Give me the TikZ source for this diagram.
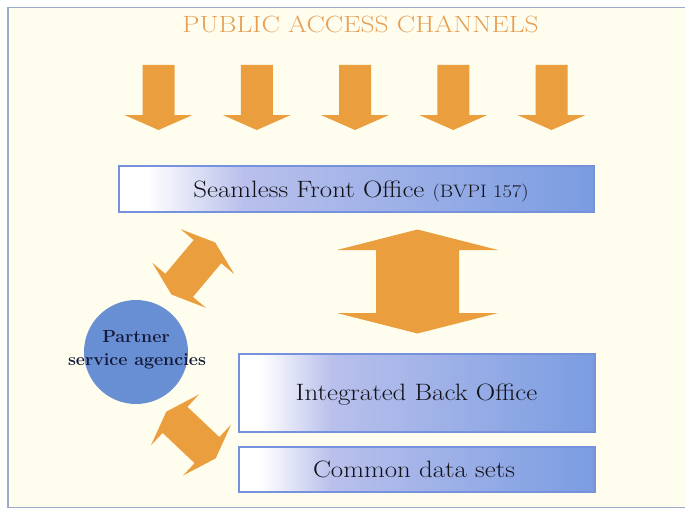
\documentclass[tikz,border=0pt]{standalone}
\usepackage{graphicx}
\definecolor{cream}{RGB}{255,253,238}
\definecolor{framec}{RGB}{155,172,205}
\definecolor{arrowor}{RGB}{234,158,62}
\definecolor{titleor}{RGB}{230,160,85}
\definecolor{circblue}{RGB}{104,142,212}
\definecolor{boxline}{RGB}{118,146,220}
\definecolor{boxblue}{RGB}{122,156,225}
\definecolor{boxmid}{RGB}{185,192,236}
\definecolor{boxtext}{RGB}{18,18,24}
\definecolor{partnertext}{RGB}{20,26,55}
\pgfdeclarehorizontalshading{boxshade}{100bp}{color(0bp)=(white); color(28bp)=(white); color(38bp)=(boxmid); color(75bp)=(boxblue); color(100bp)=(boxblue)}
\tikzset{
  officebox/.style={rectangle, draw=boxline, line width=1.8pt, shading=boxshade, inner sep=0pt},
  boxlabel/.style={anchor=base, text=boxtext, inner sep=0pt},
  pics/dblarrow/.style args={#1/#2/#3/#4}{code={
    \fill[arrowor] (-#1,#4) -- (#1,#4) -- (#1,#3) -- (#1+#2,0) -- (#1,-#3) -- (#1,-#4)
      -- (-#1,-#4) -- (-#1,-#3) -- (-#1-#2,0) -- (-#1,#3) -- cycle;
  }},
  pics/downarrow/.style={code={
    \fill[arrowor] (-16,0) -- (16,0) -- (16,50) -- (34,50) -- (0,65) -- (-34,50) -- (-16,50) -- cycle;
  }}
}
\newcommand{\bigtxt}[1]{{\fontsize{23}{27}\selectfont\scalebox{1.17}[1.03]{#1}}}
\begin{document}
\begin{tikzpicture}[x=1pt,y=-1pt]
\useasboundingbox (0,0) rectangle (685,511);
\fill[white] (0,0) rectangle (685,511);
\fill[cream] (8,7.7) rectangle (685,507.5);
\draw[framec, line width=1.5pt] (685,7.7) -- (8,7.7) -- (8,507.5) -- (685,507.5);

% title
\node[anchor=base, text=titleor, inner sep=0pt] (title) at (360.5,32.3)
  {\fontsize{23.5}{27}\selectfont\scalebox{1.17}[1]{PUBLIC ACCESS CHANNELS}};

% channel arrows
\foreach \i in {0,...,4}
  \pic at ({158.5+98.25*\i},65) {downarrow};

% boxes
\node[officebox, minimum width=475, minimum height=46] (front) at (356.5,189) {};
\node[officebox, minimum width=356, minimum height=78] (back) at (417,393) {};
\node[officebox, minimum width=356, minimum height=45] (common) at (417,469.5) {};

\node[boxlabel] (frontlabel) at (361,197)
  {\fontsize{23}{27}\selectfont\scalebox{1.17}[1.03]{Seamless Front Office \fontsize{17.5}{20}\selectfont(BVPI 157)}};
\node[boxlabel] (backlabel) at (416.5,400.5) {\bigtxt{Integrated Back Office}};
\node[boxlabel] (commonlabel) at (414,477) {\bigtxt{Common data sets}};

% partner circle
\node[circle, fill=circblue, minimum size=104, inner sep=0pt] (partner) at (136,352) {};
\node[anchor=base, text=partnertext, inner sep=0pt] (partner1) at (136,342)
  {\fontsize{17.5}{20}\selectfont\bfseries\scalebox{1.02}[1]{Partner}};
\node[anchor=base, text=partnertext, inner sep=0pt] (partner2) at (137,365)
  {\fontsize{17.5}{20}\selectfont\bfseries\scalebox{1.02}[1]{service agencies}};

% double arrows
\pic[rotate=90] (mid) at (417.5,281.5) {dblarrow={31.5/20.5/80.5/41.5}};
\pic[rotate=50] (upl) at (193.3,268.5) {dblarrow={22/12/35/18}};
\pic[rotate=-43.4] (lowl) at (191,435) {dblarrow={22/12/35/18}};
\end{tikzpicture}
\end{document}
